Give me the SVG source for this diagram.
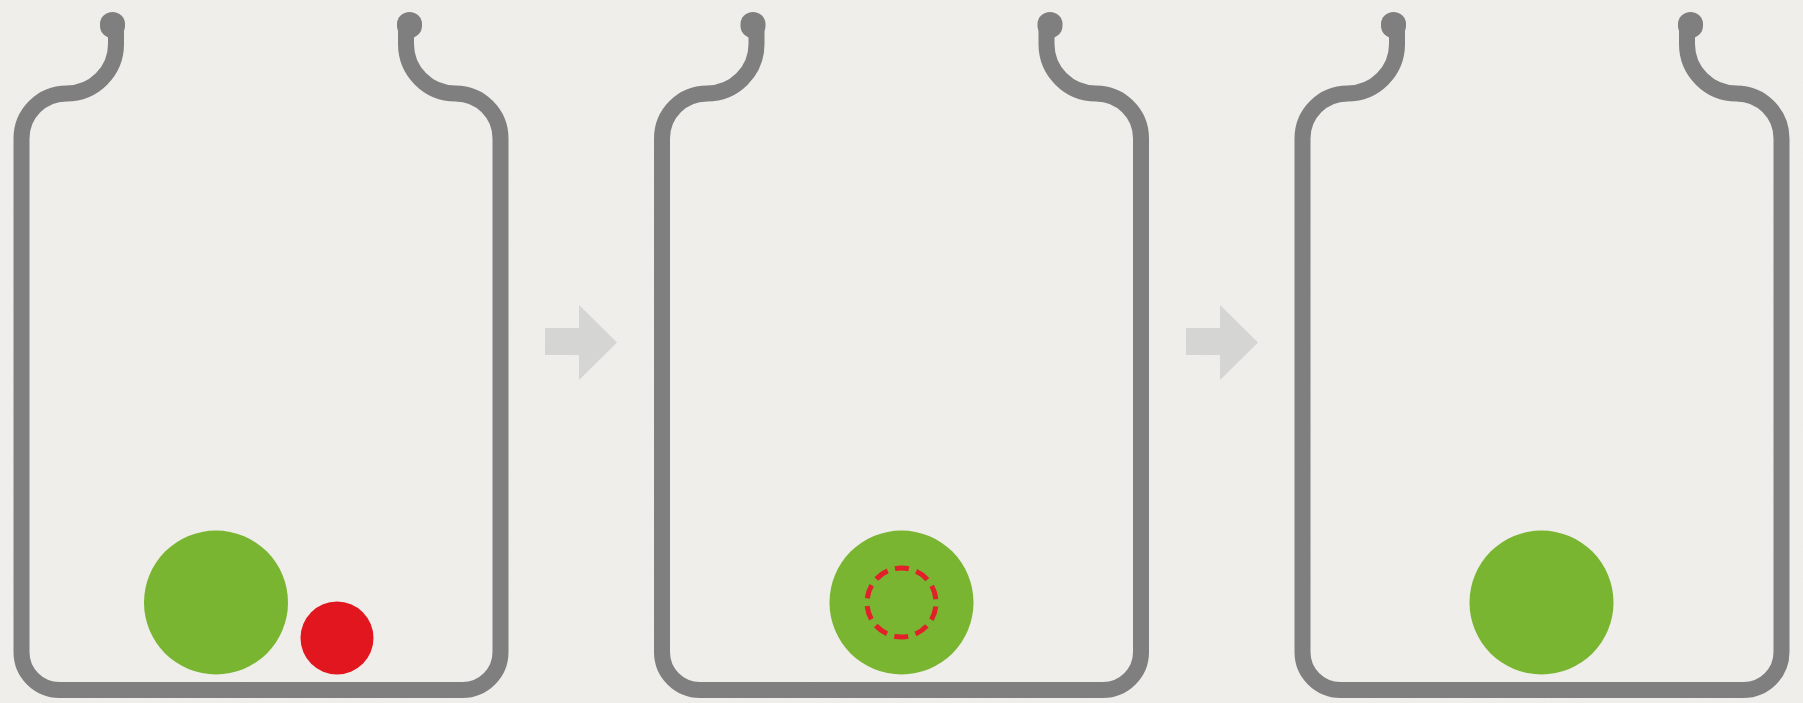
<svg xmlns="http://www.w3.org/2000/svg" width="1803" height="703" viewBox="0 0 1803 703">
  <defs>
    <style>
      .jar { fill: none; stroke: #7f7f7f; stroke-width: 16; stroke-linecap: round; stroke-linejoin: round; }
      .knob { fill: #7f7f7f; }
      .ball { fill: #79b530; }
      .red { fill: #e2161f; }
      .dash { fill: none; stroke: #e2202a; stroke-width: 5; stroke-dasharray: 14 7.68; }
      .arrow { fill: #d5d5d3; }
    </style>
    <filter id="paper" x="0" y="0" width="100%" height="100%">
      <feTurbulence type="fractalNoise" baseFrequency="0.9" numOctaves="3" seed="4"/>
      <feColorMatrix type="saturate" values="0"/>
      <feComponentTransfer>
        <feFuncA type="linear" slope="0.05"/>
      </feComponentTransfer>
    </filter>
    <g id="jarShape">
      <path class="jar" d="M94.5,32 V44 A49.5,49.5 0 0 1 45,93.5 A45,45 0 0 0 0,138.5 V652 A38,38 0 0 0 38,690 H441 A38,38 0 0 0 479,652 V138.5 A45,45 0 0 0 434,93.5 A49.5,49.5 0 0 1 384.5,44 V32"/>
      <rect class="knob" x="78.5" y="12" width="25" height="26" rx="12.5" ry="12"/>
      <rect class="knob" x="375.5" y="12" width="25" height="26" rx="12.5" ry="12"/>
    </g>
  </defs>
  <rect width="1803" height="703" fill="#f0efeb"/>
  <rect width="1803" height="703" filter="url(#paper)"/>

  <g id="jar1">
    <use href="#jarShape" transform="translate(21.5,0)"/>
    <circle class="ball" cx="216" cy="602.5" r="72"/>
    <circle class="red" cx="337" cy="638" r="36.5"/>
  </g>

  <g id="jar2">
    <use href="#jarShape" transform="translate(662,0)"/>
    <circle class="ball" cx="901.5" cy="602.5" r="72"/>
    <circle class="dash" cx="901.5" cy="602.5" r="34.5" stroke-dashoffset="-4"/>
  </g>

  <g id="jar3">
    <use href="#jarShape" transform="translate(1302.5,0)"/>
    <circle class="ball" cx="1541.5" cy="602.5" r="72"/>
  </g>

  <g id="connectors">
    <polygon class="arrow" points="545,328 579,328 579,305 617,342.5 579,380 579,355 545,355"/>
    <polygon class="arrow" points="1186,328 1220,328 1220,305 1258,342.5 1220,380 1220,355 1186,355"/>
  </g>
</svg>
